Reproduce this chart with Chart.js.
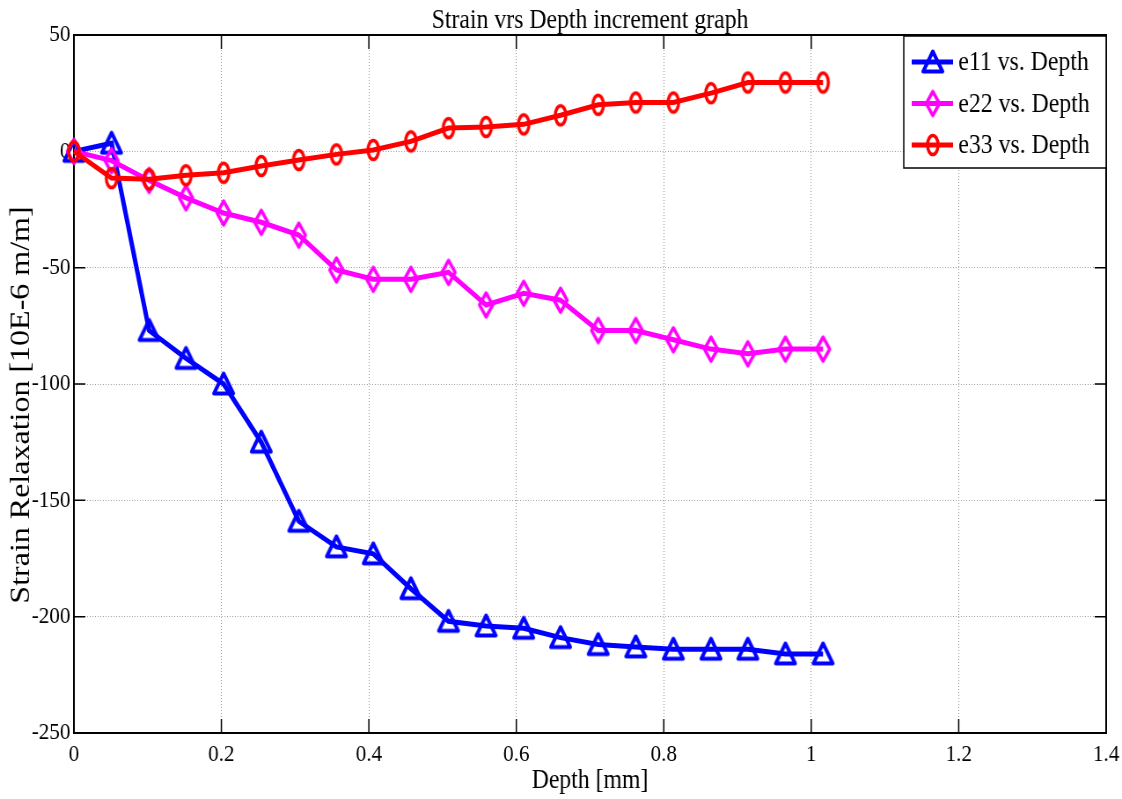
<!DOCTYPE html>
<html>
<head>
<meta charset="utf-8">
<title>Strain vrs Depth</title>
<script src="https://cdn.jsdelivr.net/npm/chart.js@4.4.1/dist/chart.umd.min.js"></script>
<style>
  html, body { margin: 0; padding: 0; background: #fff; }
  #ctx { display: block; }
</style>
</head>
<body>
<!-- rendered wider and squeezed back horizontally, like the original figure export -->
<canvas id="ctx" width="1275" height="799" style="width:1122px;height:799px"></canvas>
<script>
// depth increments [mm]
const depth = [0, 0.051, 0.102, 0.152, 0.203, 0.254, 0.305, 0.356, 0.406, 0.457, 0.508,
               0.559, 0.610, 0.660, 0.711, 0.762, 0.813, 0.864, 0.914, 0.965, 1.016];
// strain relaxation [10E-6 m/m]
const e11 = [0, 3.5, -77, -89, -100, -125, -159, -170, -173, -188, -202,
             -204, -205, -209, -212, -213, -214, -214, -214, -216, -216];
const e22 = [0, -4, -12.5, -20, -26.5, -30.5, -36, -51, -55, -55, -52,
             -66, -61, -64, -77, -77, -81, -85, -87, -85, -85];
const e33 = [0, -11.5, -12, -10.3, -9.2, -6.3, -3.7, -1.3, 0.6, 4.3, 10,
             10.5, 11.6, 15.5, 20, 21, 21, 25, 29.6, 29.6, 29.6];

const labels = ["e11 vs. Depth", "e22 vs. Depth", "e33 vs. Depth"];
const xTicks = [0, 0.2, 0.4, 0.6, 0.8, 1, 1.2, 1.4];
const yTicks = [-250, -200, -150, -100, -50, 0, 50];
const yTitle = "Strain Relaxation [10E-6 m/m]";

const FONT = "'Liberation Serif', 'Times New Roman', serif";

// hollow matlab style markers, drawn once into small canvases
function marker(shape, color) {
  const c = document.createElement("canvas");
  c.width = 32; c.height = 32;
  const g = c.getContext("2d");
  g.strokeStyle = color;
  g.lineJoin = "round";
  g.beginPath();
  if (shape === "tri") {
    g.lineWidth = 4;
    g.moveTo(16, 5.5); g.lineTo(27, 25.5); g.lineTo(5, 25.5); g.closePath();
  } else if (shape === "dia") {
    g.lineWidth = 3.5;
    g.moveTo(16, 4); g.lineTo(23.5, 16); g.lineTo(16, 28); g.lineTo(8.5, 16); g.closePath();
  } else {
    g.lineWidth = 3.5;
    g.ellipse(16, 16, 6, 9.5, 0, 0, Math.PI * 2);
  }
  g.stroke();
  return c;
}

const colors = ["#0000ff", "#ff00ff", "#ff0000"];
const markers = [marker("tri", colors[0]), marker("dia", colors[1]), marker("circ", colors[2])];

const pts = (ys) => depth.map((d, i) => ({ x: d, y: ys[i] }));

// box, inner ticks, y label and the legend the way matlab draws them
const matlabAxes = {
  id: "matlabAxes",
  beforeDatasetsDraw(chart) {
    const { ctx, chartArea: a, scales } = chart;
    ctx.save();
    ctx.strokeStyle = "#000";
    ctx.lineWidth = 1.5;
    ctx.beginPath();
    xTicks.forEach(v => {
      const px = scales.x.getPixelForValue(v);
      ctx.moveTo(px, a.bottom); ctx.lineTo(px, a.bottom - 14);
      ctx.moveTo(px, a.top); ctx.lineTo(px, a.top + 14);
    });
    yTicks.forEach(v => {
      const py = scales.y.getPixelForValue(v);
      ctx.moveTo(a.left, py); ctx.lineTo(a.left + 13, py);
      ctx.moveTo(a.right, py); ctx.lineTo(a.right - 13, py);
    });
    ctx.stroke();
    ctx.lineWidth = 2;
    ctx.strokeRect(a.left, a.top, a.right - a.left, a.bottom - a.top);

    // y axis label sits a little below the middle of the axis
    ctx.translate(25, 405);
    ctx.rotate(-Math.PI / 2);
    ctx.font = "32px " + FONT;
    ctx.fillStyle = "#000";
    ctx.textAlign = "center";
    ctx.textBaseline = "middle";
    ctx.fillText(yTitle, 0, 0);
    ctx.restore();
  },
  afterDraw(chart) {
    const { ctx, chartArea: a } = chart;
    const x0 = a.right - 230, y0 = a.top + 1, w = 230, h = 132;
    ctx.save();
    ctx.fillStyle = "#fff";
    ctx.fillRect(x0, y0, w, h);
    ctx.strokeStyle = "#000";
    ctx.lineWidth = 1.5;
    ctx.strokeRect(x0, y0, w, h);
    ctx.font = "27px " + FONT;
    ctx.textBaseline = "middle";
    chart.data.datasets.forEach((ds, i) => {
      const y = y0 + 26 + i * 41.5;
      ctx.strokeStyle = ds.borderColor;
      ctx.lineWidth = 5;
      ctx.beginPath();
      ctx.moveTo(x0 + 9, y); ctx.lineTo(x0 + 56, y);
      ctx.stroke();
      const m = ds.pointStyle;
      ctx.drawImage(m, x0 + 33 - m.width / 2, y - m.height / 2);
      ctx.fillStyle = "#000";
      ctx.fillText(ds.label, x0 + 62, y + 1);
    });
    ctx.restore();
  }
};

const axisFont = { family: FONT, size: 24 };

const pintarGrafica = () => {
  new Chart(document.getElementById("ctx"), {
    type: "line",
    data: {
      datasets: [e11, e22, e33].map((ys, i) => ({
        label: labels[i],
        data: pts(ys),
        borderColor: colors[i],
        borderWidth: 5,
        pointStyle: markers[i],
        pointRadius: 8,
        pointHoverRadius: 8,
        clip: false,
        order: 3 - i, // e33 ends up on top
      })),
    },
    options: {
      responsive: false,
      animation: false,
      events: [],
      layout: { padding: { left: 0, right: 18, top: 0, bottom: 0 } },
      plugins: {
        legend: { display: false },
        tooltip: { enabled: false },
        title: {
          display: true,
          text: "Strain vrs Depth increment graph",
          fullSize: false,
          color: "#000",
          font: { family: FONT, size: 27, weight: "normal", lineHeight: 1 },
          padding: { top: 7, bottom: 1 },
        },
      },
      scales: {
        x: {
          type: "linear",
          min: 0,
          max: 1.4,
          afterBuildTicks: (s) => { s.ticks = xTicks.map(v => ({ value: v })); },
          afterFit: (s) => { s.height = 66; s.paddingLeft = 0; s.paddingRight = 0; },
          ticks: { callback: (v) => String(v), color: "#000", font: axisFont, padding: 7, maxRotation: 0, autoSkip: false },
          grid: { color: "#9a9a9a", lineWidth: 1, drawTicks: false },
          border: { display: false, dash: [1, 2] },
          title: {
            display: true, text: "Depth [mm]", color: "#000",
            font: { family: FONT, size: 27, lineHeight: 1 },
            padding: { top: 0, bottom: 5 },
          },
        },
        y: {
          type: "linear",
          min: -250,
          max: 50,
          afterBuildTicks: (s) => { s.ticks = yTicks.map(v => ({ value: v })); },
          afterFit: (s) => { s.width = 84; },
          ticks: { callback: (v) => String(v), color: "#000", font: axisFont, padding: 4, autoSkip: false },
          grid: { color: "#9a9a9a", lineWidth: 1, drawTicks: false },
          border: { display: false, dash: [1, 2] },
        },
      },
    },
    plugins: [matlabAxes],
  });
};

window.addEventListener("load", pintarGrafica);
</script>
</body>
</html>
